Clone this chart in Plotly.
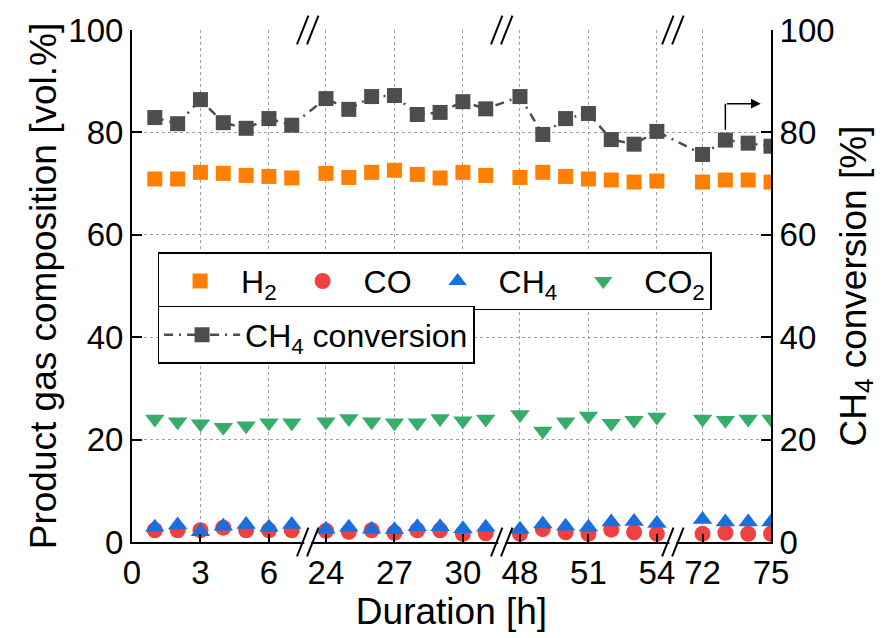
import plotly.graph_objects as go

# ---------------- data ----------------
hours = [1, 2, 3, 4, 5, 6, 7,
         24, 25, 26, 27, 28, 29, 30, 31,
         48, 49, 50, 51, 52, 53, 54,
         72, 73, 74, 75]
h2 = [70.9, 70.9, 72.2, 72.0, 71.6, 71.4, 71.1,
      72.0, 71.2, 72.2, 72.6, 71.8, 71.1, 72.2, 71.6,
      71.2, 72.2, 71.4, 70.9, 70.7, 70.3, 70.5,
      70.3, 70.7, 70.7, 70.3]
co = [2.3, 2.3, 2.3, 2.8, 2.3, 2.3, 2.3,
      2.2, 2.0, 2.3, 1.8, 2.3, 2.3, 1.6, 1.7,
      1.6, 2.5, 1.9, 1.6, 2.4, 1.9, 1.6,
      1.6, 1.8, 1.6, 1.6]
ch4 = [2.9, 3.3, 2.0, 3.1, 3.4, 2.9, 3.4,
       2.5, 2.9, 2.5, 2.4, 3.0, 3.0, 2.6, 2.9,
       2.5, 3.5, 3.1, 2.9, 3.9, 4.0, 3.6,
       4.4, 3.9, 3.9, 3.9]
co2 = [24.0, 23.5, 23.1, 22.4, 22.7, 23.3, 23.3,
       23.5, 24.1, 23.5, 23.3, 23.3, 24.1, 23.7, 24.0,
       24.9, 21.7, 23.5, 24.6, 23.2, 23.8, 24.4,
       24.0, 23.8, 24.0, 24.0]
conv = [82.9, 81.7, 86.4, 81.9, 80.8, 82.7, 81.4,
        86.6, 84.5, 87.0, 87.2, 83.5, 83.9, 86.0, 84.6,
        87.0, 79.6, 82.7, 83.7, 78.6, 77.7, 80.2,
        75.7, 78.5, 77.9, 77.3]

tick_hours = [0, 3, 6, 24, 27, 30, 48, 51, 54, 72, 75]
tick_labels = [str(t) for t in tick_hours]

# broken axis: segment start hour -> offset subtracted
seg_starts = [0, 24, 48, 72]
seg_offsets = [0, 15.5, 31, 47]
breaks = [7.7, 16.2, 23.7]  # break positions on compressed axis


def cx(h):
    off = 0
    for s, o in zip(seg_starts, seg_offsets):
        if h >= s:
            off = o
    return h - off


xs = [cx(h) for h in hours]
tickvals = [cx(h) for h in tick_hours]

FONT = "Liberation Sans, Arial, sans-serif"
C_H2 = "#ff8000"
C_CO = "#f04040"
C_CH4 = "#1a6fdf"
C_CO2 = "#37ad6b"
C_CONV = "#4d4d4d"

TICK_SIZE = 33
TITLE_SIZE = 37
LEG_SIZE = 32

fig = go.Figure()
fig.add_trace(go.Scatter(x=xs, y=h2, mode="markers", name="H<sub>2</sub>",
                         marker=dict(symbol="square", size=15, color=C_H2), legend="legend"))
fig.add_trace(go.Scatter(x=xs, y=co, mode="markers", name="CO",
                         marker=dict(symbol="circle", size=16, color=C_CO), legend="legend"))
fig.add_trace(go.Scatter(x=xs, y=ch4, mode="markers", name="CH<sub>4</sub>",
                         marker=dict(symbol="triangle-up", size=17, color=C_CH4), legend="legend"))
fig.add_trace(go.Scatter(x=xs, y=co2, mode="markers", name="CO<sub>2</sub>",
                         marker=dict(symbol="triangle-down", size=17, color=C_CO2), legend="legend"))
fig.add_trace(go.Scatter(x=xs, y=conv, mode="lines+markers", name="CH<sub>4</sub> conversion",
                         yaxis="y2",
                         line=dict(color=C_CONV, width=2.5, dash="9px,6px,2px,6px"),
                         marker=dict(symbol="square", size=15, color=C_CONV), legend="legend2"))

grid = dict(showgrid=True, gridcolor="#a0a0a0", gridwidth=1, griddash="3px,3px")

fig.update_layout(
    width=892, height=638,
    margin=dict(l=132, r=121, t=26, b=96),
    paper_bgcolor="white", plot_bgcolor="white",
    font=dict(family=FONT, size=TICK_SIZE, color="black"),
    xaxis=dict(range=[0, 28], tickmode="array", tickvals=tickvals, ticktext=tick_labels,
               ticks="inside", ticklen=8, tickwidth=1.5, tickcolor="black",
               showline=True, linecolor="black", linewidth=2, zeroline=False,
               title=dict(text="Duration [h]", font=dict(size=TITLE_SIZE), standoff=2),
               tickfont=dict(size=TICK_SIZE), **grid),
    yaxis=dict(range=[0, 100], tickvals=[0, 20, 40, 60, 80, 100],
               ticks="inside", ticklen=10, tickwidth=1.5, tickcolor="black",
               showline=True, linecolor="black", linewidth=2, zeroline=False,
               title=dict(text="Product gas composition [vol.%]", font=dict(size=TITLE_SIZE), standoff=0),
               tickfont=dict(size=TICK_SIZE), **grid),
    yaxis2=dict(range=[0, 100], tickvals=[0, 20, 40, 60, 80, 100], overlaying="y", side="right",
                ticks="inside", ticklen=10, tickwidth=1.5, tickcolor="black",
                showline=True, linecolor="black", linewidth=2, zeroline=False, showgrid=False,
                title=dict(text="CH<sub>4</sub> conversion [%]", font=dict(size=TITLE_SIZE), standoff=6),
                tickfont=dict(size=TICK_SIZE)),
    legend=dict(orientation="h", x=0.04, y=0.566, xanchor="left", yanchor="top",
                bgcolor="white", bordercolor="black", borderwidth=1.5,
                font=dict(size=LEG_SIZE), itemwidth=72, traceorder="normal"),
    legend2=dict(x=0.04, y=0.461, xanchor="left", yanchor="top",
                 bgcolor="white", bordercolor="black", borderwidth=1.5,
                 font=dict(size=LEG_SIZE), itemwidth=76),
    showlegend=True,
)

# axis break marks
shapes = []
for b in breaks:
    for yy in (0, 1):
        shapes.append(dict(type="line", xref="x", yref="paper", x0=b - 0.15, x1=b + 0.15,
                           y0=yy, y1=yy, line=dict(color="white", width=5), layer="above"))
        for d in (-0.22, 0.22):
            shapes.append(dict(type="line", xref="x", yref="paper",
                               x0=b + d - 0.25, x1=b + d + 0.25, y0=yy - 0.028, y1=yy + 0.028,
                               line=dict(color="black", width=2), layer="above"))
# arrow pointing to right axis
arrow_x = cx(73)
shapes.append(dict(type="line", xref="x", yref="y", x0=arrow_x, x1=arrow_x, y0=80.5, y1=85.6,
                   line=dict(color="black", width=1.5)))
fig.update_layout(shapes=shapes)
fig.add_annotation(x=27.55, y=85.6, ax=arrow_x, ay=85.6, xref="x", yref="y", axref="x", ayref="y",
                   showarrow=True, arrowhead=2, arrowsize=1.3, arrowwidth=1.5, arrowcolor="black",
                   text="")

fig.write_html("out.html")
